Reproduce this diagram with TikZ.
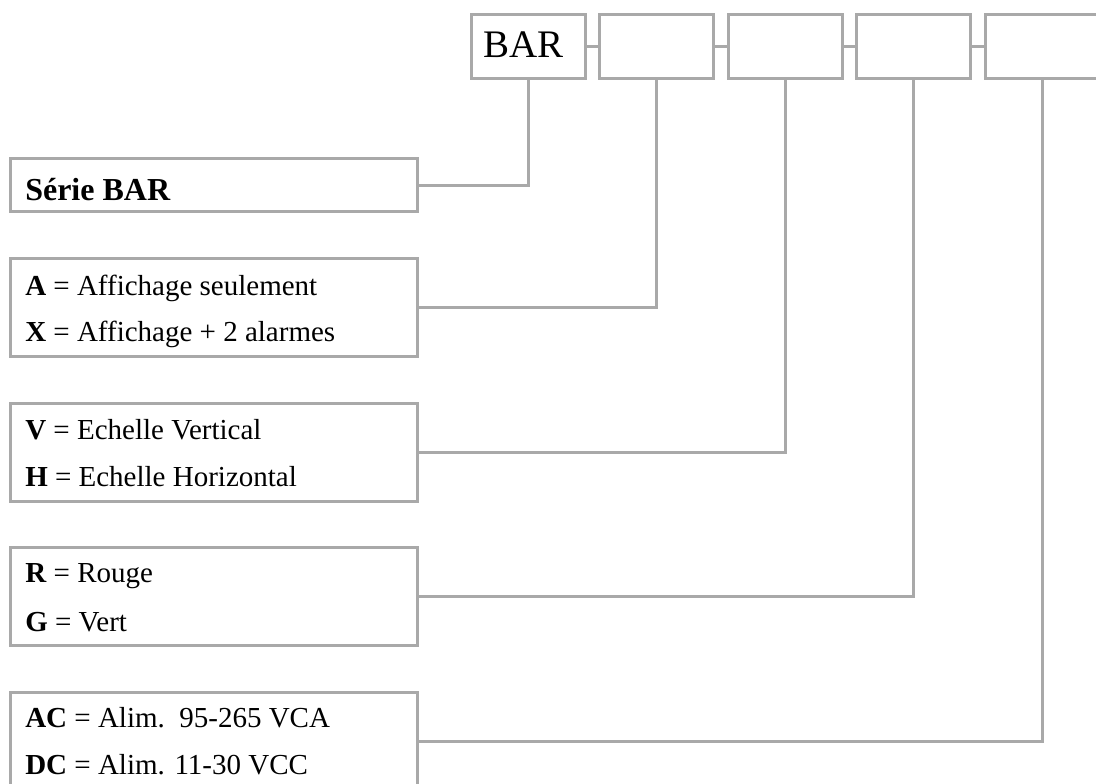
\documentclass[tikz,border=0pt]{standalone}
\usepackage{fontspec}
\setmainfont{Liberation Serif}
\definecolor{linegray}{HTML}{A9A9A9}
\begin{document}
\begin{tikzpicture}[x=0.75pt,y=-0.75pt,
  line/.style={draw=linegray,line width=2.25pt},
  topbox/.style={line,rectangle,inner sep=0pt,outer sep=0pt,minimum width=85.5pt,minimum height=48pt},
  leftbox/.style={line,rectangle,inner sep=0pt,outer sep=0pt,minimum width=305.25pt,minimum height=73.5pt},
  lbl/.style={anchor=base west,inner sep=0pt,font=\fontsize{21.75pt}{24pt}\selectfont},
  conn/.style={line}]
\useasboundingbox (0,0) rectangle (1096,783);
\fill[white] (0,0) rectangle (1096,783);
\clip (0,0) rectangle (1096,783);
% top boxes
\node[topbox] (T1) at (528,46.5) {};
\node[topbox] (T2) at (656.5,46.5) {};
\node[topbox] (T3) at (785,46.5) {};
\node[topbox] (T4) at (913.5,46.5) {};
\node[topbox] (T5) at (1042,46.5) {};
\node[anchor=base west,inner sep=0pt,font=\fontsize{29.25pt}{32pt}\selectfont] (bar) at (483,57) {BAR};
\draw[conn] (T1.east) -- (T2.west);
\draw[conn] (T2.east) -- (T3.west);
\draw[conn] (T3.east) -- (T4.west);
\draw[conn] (T4.east) -- (T5.west);
% left boxes
\node[leftbox,minimum height=39.75pt] (L1) at (214,185) {};
\node[leftbox] (L2) at (214,307.5) {};
\node[leftbox] (L3) at (214,452.5) {};
\node[leftbox] (L4) at (214,596) {};
\node[leftbox] (L5) at (214,741.5) {};
% texts
\node[anchor=base west,inner sep=0pt,font=\fontsize{24pt}{26pt}\selectfont\bfseries] (s1) at (25,200) {Série BAR};
\node[lbl] (s2a) at (25,295) {\textbf{A} = Affichage seulement};
\node[lbl] (s2b) at (25,341) {\textbf{X} = Affichage + 2 alarmes};
\node[lbl] (s3a) at (25,439) {\textbf{V} = Echelle Vertical};
\node[lbl] (s3b) at (25,486) {\textbf{H} = Echelle Horizontal};
\node[lbl] (s4a) at (25,582) {\textbf{R} = Rouge};
\node[lbl] (s4b) at (25,631) {\textbf{G} = Vert};
\node[lbl] (s5a) at (25,727) {\textbf{AC} = Alim.\ \ 95-265 VCA};
\node[lbl] (s5b) at (25,774) {\textbf{DC} = Alim. 11-30 VCC};
% connectors
\draw[conn] (T1.south) |- (L1.east);
\draw[conn] (T2.south) |- (L2.east);
\draw[conn] (T3.south) |- (L3.east);
\draw[conn] (T4.south) |- (L4.east);
\draw[conn] (T5.south) |- (L5.east);
\end{tikzpicture}
\end{document}
